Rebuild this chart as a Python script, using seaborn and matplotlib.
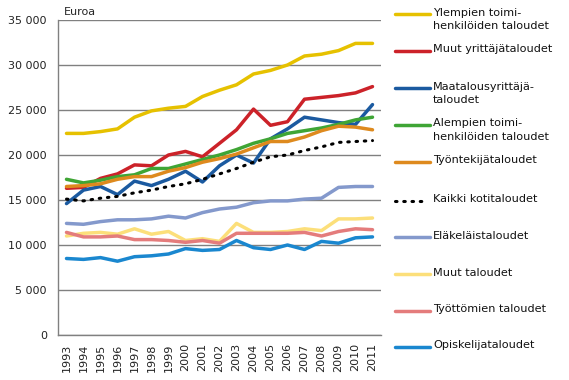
import matplotlib
matplotlib.use("Agg")
import matplotlib.pyplot as plt
import seaborn as sns
import pandas as pd
import numpy as np
from matplotlib.lines import Line2D
from matplotlib.ticker import FuncFormatter

years = list(range(1993, 2012))

# Euroa per household type, 1993-2011
ylempien = [22400, 22400, 22600, 22900, 24200, 24900, 25200, 25400, 26500, 27200,
            27800, 29000, 29400, 30000, 31000, 31200, 31600, 32400, 32400]
muut_yrittaja = [16300, 16400, 17400, 17900, 18900, 18800, 20000, 20400, 19800, 21300,
                 22800, 25100, 23300, 23700, 26200, 26400, 26600, 26900, 27600]
maatalous = [14600, 16100, 16500, 15600, 17100, 16600, 17300, 18200, 17000, 18800,
             20000, 19100, 21800, 22900, 24200, 23900, 23600, 23400, 25600]
alempien = [17300, 16900, 17200, 17600, 17800, 18500, 18500, 19000, 19500, 20000,
            20600, 21300, 21800, 22400, 22700, 23000, 23400, 23900, 24200]
tyontekija = [16500, 16600, 16800, 17300, 17600, 17600, 18200, 18600, 19200, 19600,
              20100, 20800, 21500, 21500, 22000, 22700, 23200, 23100, 22800]
kaikki = [15100, 14900, 15200, 15400, 15800, 16100, 16500, 16800, 17300, 17900,
          18500, 19200, 19800, 20000, 20500, 20900, 21400, 21500, 21600]
elakelais = [12400, 12300, 12600, 12800, 12800, 12900, 13200, 13000, 13600, 14000,
             14200, 14700, 14900, 14900, 15100, 15200, 16400, 16500, 16500]
muut_taloudet = [11000, 11300, 11400, 11200, 11800, 11200, 11500, 10500, 10700, 10400,
                 12400, 11400, 11400, 11500, 11800, 11600, 12900, 12900, 13000]
tyottomien = [11400, 10900, 10900, 11000, 10600, 10600, 10500, 10300, 10500, 10200,
              11300, 11300, 11300, 11300, 11400, 11000, 11500, 11800, 11700]
opiskelija = [8500, 8400, 8600, 8200, 8700, 8800, 9000, 9600, 9400, 9500,
              10500, 9700, 9500, 10000, 9500, 10400, 10200, 10800, 10900]

labels = ["Ylempien toimi-\nhenkilöiden taloudet", "Muut yrittäjätaloudet",
          "Maatalousyrittäjä-\ntaloudet", "Alempien toimi-\nhenkilöiden taloudet",
          "Työntekijätaloudet", "Kaikki kotitaloudet", "Eläkeläistaloudet",
          "Muut taloudet", "Työttömien taloudet", "Opiskelijataloudet"]
series = [ylempien, muut_yrittaja, maatalous, alempien, tyontekija,
          kaikki, elakelais, muut_taloudet, tyottomien, opiskelija]
colors = ["#E6C100", "#CC2229", "#1B5AA0", "#3FA535", "#DE8A1E",
          "#000000", "#8499CC", "#FCDF7A", "#E47C7C", "#1A87CF"]

sns.set_style("white")
plt.rcParams["font.family"] = ["DejaVu Sans"]

fig = plt.figure(figsize=(5.69, 3.80), dpi=100)
ax = fig.add_axes([58 / 569, 1 - 335 / 380, (381 - 58) / 569, (335 - 20) / 380])

x = np.arange(len(years))
for lab, vals, col in zip(labels, series, colors):
    df = pd.DataFrame({"x": x, "v": vals})
    if lab.startswith("Kaikki"):
        sns.lineplot(data=df, x="x", y="v", ax=ax, color=col, lw=2.2,
                     linestyle=(0, (0.5, 2.2)), dash_capstyle="round")
    else:
        sns.lineplot(data=df, x="x", y="v", ax=ax, color=col, lw=2.5)

ax.set_xlim(-0.5, len(years) - 0.5)
ax.set_ylim(0, 35000)
ax.set_yticks(range(0, 35001, 5000))
ax.yaxis.set_major_formatter(FuncFormatter(lambda v, p: f"{int(v):,}".replace(",", " ")))
ax.set_xticks(x)
ax.set_xticklabels([str(y) for y in years], rotation=90)
ax.set_xticks(np.arange(-0.5, len(years)), minor=True)
ax.tick_params(axis="x", which="major", length=0, pad=6, labelsize=8, colors="#222222")
ax.tick_params(axis="x", which="minor", length=5, color="#808080", direction="out")
ax.tick_params(axis="y", length=0, pad=8, labelsize=8, colors="#222222")
ax.set_xlabel("")
ax.set_ylabel("")
ax.grid(axis="y", color="#808080", lw=1)
ax.set_axisbelow(True)
for s in ["top", "right"]:
    ax.spines[s].set_visible(False)
for s in ["left", "bottom"]:
    ax.spines[s].set_color("#808080")
    ax.spines[s].set_linewidth(1)

fig.text(64 / 569, 1 - 12 / 380, "Euroa", fontsize=8, va="center", ha="left")

# legend drawn beside the plot, handle aligned with the first text line
ys = [14.3, 51, 88.3, 125, 161.7, 200.7, 237, 274, 310.7, 347]
for lab, col, yy in zip(labels, colors, ys):
    yf = 1 - yy / 380
    if lab.startswith("Kaikki"):
        ln = Line2D([395 / 569, 428 / 569], [yf, yf], color=col, lw=2.2,
                    linestyle=(0, (0.5, 2.2)), dash_capstyle="round")
    else:
        ln = Line2D([395 / 569, 430 / 569], [yf, yf], color=col, lw=2.5)
    fig.add_artist(ln)
    fig.text(433 / 569, 1 - (yy - 6.5) / 380, lab, fontsize=8.1, va="top", ha="left",
             linespacing=1.4, color="#111111")

fig.savefig("out.png", dpi=100)
